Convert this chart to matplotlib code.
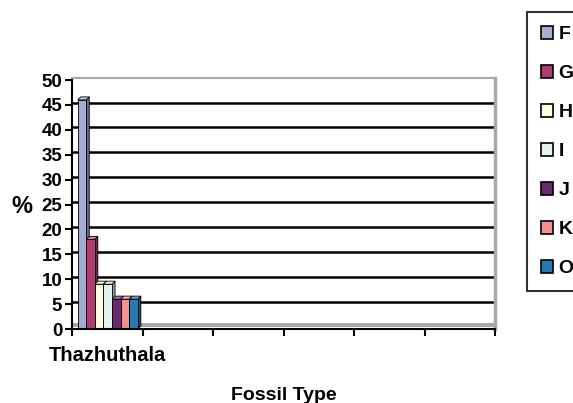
import matplotlib
matplotlib.use("Agg")
import matplotlib.pyplot as plt
from matplotlib.patches import Polygon, Patch
import matplotlib.colors as mcolors
import numpy as np

# Data
categories = ["Thazhuthala", "", "", "", "", ""]
series_names = ["F", "G", "H", "I", "J", "K", "O"]
series_values = [
    [46, 0, 0, 0, 0, 0],   # F
    [18, 0, 0, 0, 0, 0],   # G
    [9, 0, 0, 0, 0, 0],    # H
    [9, 0, 0, 0, 0, 0],    # I
    [6, 0, 0, 0, 0, 0],    # J
    [6, 0, 0, 0, 0, 0],    # K
    [6, 0, 0, 0, 0, 0],    # O
]
series_colors = ["#a3acd3", "#b03c72", "#fdfbdb", "#e4f3ee", "#6a2a6e", "#f59090", "#2a78b0"]
y_ticks = [0, 5, 10, 15, 20, 25, 30, 35, 40, 45, 50]

plt.rcParams["font.family"] = ["Liberation Sans", "DejaVu Sans"]
plt.rcParams["font.weight"] = "bold"

W, H = 573, 403
fig = plt.figure(figsize=(W / 100, H / 100), dpi=100)
ax = fig.add_axes([72 / W, 1 - 329 / H, 423 / W, 249 / H])

n_cat = len(categories)
ax.set_xlim(0, n_cat)
ax.set_ylim(0, 50)

# depth of the pseudo-3D effect in data units (about 3 px)
dx = 3 / (423 / n_cat)
dy = 3 / (249 / 50)

# back wall: gridlines, top edge, right edge and floor
for v in y_ticks[1:-1]:
    ax.plot([0, n_cat], [v + dy * 0.8, v + dy * 0.8], color="black", lw=1.8, zorder=1,
            solid_capstyle="butt")
ax.plot([0, n_cat], [50 + dy * 0.6, 50 + dy * 0.6], color="#a8a8a8", lw=1.5, zorder=1, clip_on=False)
ax.plot([n_cat, n_cat], [0, 50 + dy * 0.6], color="#a8a8a8", lw=2.5, zorder=1, clip_on=False)
ax.fill_between([0, n_cat], 0.35, 1.15, color="#a8a8a8", lw=0, zorder=1)

bar_w = 0.122
start = 0.08
n_ser = len(series_names)

def shade(c, f):
    r, g, b = mcolors.to_rgb(c)
    if f < 1:
        return (r * f, g * f, b * f)
    return (r + (1 - r) * (f - 1), g + (1 - g) * (f - 1), b + (1 - b) * (f - 1))

for ci in range(n_cat):
    for si in range(n_ser):
        v = series_values[si][ci]
        if v <= 0:
            continue
        x0 = ci + start + si * bar_w
        x1 = x0 + bar_w
        col = series_colors[si]
        z = 3 + si
        # side face
        ax.add_patch(Polygon([(x1, 0), (x1 + dx, dy), (x1 + dx, v + dy), (x1, v)],
                             closed=True, facecolor=shade(col, 0.65), edgecolor="black",
                             lw=0.6, zorder=z))
        # top face
        ax.add_patch(Polygon([(x0, v), (x1, v), (x1 + dx, v + dy), (x0 + dx, v + dy)],
                             closed=True, facecolor=shade(col, 1.35), edgecolor="black",
                             lw=0.6, zorder=z))
        # front face
        ax.bar(x0, v, width=bar_w, align="edge", color=col, edgecolor="black",
               lw=0.6, zorder=z + 0.5)

# axes styling
for s in ["top", "right"]:
    ax.spines[s].set_visible(False)
for s in ["left", "bottom"]:
    ax.spines[s].set_color("black")
    ax.spines[s].set_linewidth(1.5)
    ax.spines[s].set_zorder(20)

ax.set_yticks(y_ticks)
ax.set_yticklabels([str(t) for t in y_ticks], fontsize=13.5, fontweight="bold")
ax.tick_params(axis="y", direction="out", length=5, width=1.5, pad=2)

ax.set_xticks(np.arange(n_cat + 1))
ax.set_xticklabels([])
ax.set_xticks(np.arange(n_cat) + 0.5, minor=True)
ax.set_xticklabels(categories, minor=True, fontsize=14.5, fontweight="bold")
ax.tick_params(axis="x", which="major", direction="out", length=5, width=1.5)
ax.tick_params(axis="x", which="minor", length=0, pad=12)

ax.set_xlabel("Fossil Type", fontsize=14, fontweight="bold", labelpad=16)
ax.set_ylabel("%", fontsize=17, fontweight="bold", rotation=0, va="center")
ax.yaxis.set_label_coords(-0.118, 0.49)

# legend
handles = [Patch(facecolor=c, edgecolor="black", lw=1.2) for c in series_colors]
leg = fig.legend(handles, series_names, loc="upper left",
                 bbox_to_anchor=(527 / W, 1 - 12 / H),
                 prop={"size": 14, "weight": "bold"},
                 handlelength=0.62, handleheight=0.7, handletextpad=0.3,
                 labelspacing=1.1, borderpad=0.7, borderaxespad=0,
                 fancybox=False, frameon=True)
leg.get_frame().set_edgecolor("black")
leg.get_frame().set_linewidth(1.5)

fig.savefig("out.png", dpi=100)
